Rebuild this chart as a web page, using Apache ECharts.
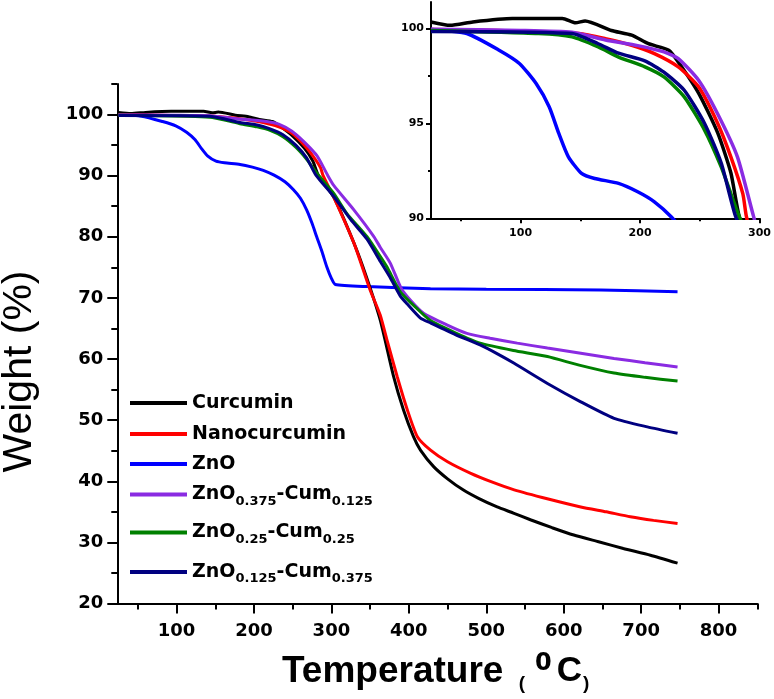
<!DOCTYPE html>
<html>
<head>
<meta charset="utf-8">
<script src="https://cdn.jsdelivr.net/npm/echarts@6/dist/echarts.min.js"></script>
<style>html,body{margin:0;padding:0;background:#fff;}#c{width:774px;height:699px;}</style>
</head>
<body>
<div id="c"></div>
<script>
// ---- data: [temperature (°C), weight (%)] ----
const curcumin = [[25,100.35],[41,100.17],[60,100.35],[93,100.53],[135,100.53],[146,100.3],[154,100.4],[176,99.9],[193,99.65],[207,99.2],[224,98.86],[232,98.24],[249,96.6],[265,94.5],[276,92.4],[283,90.1],[303,86.5],[329,79.0],[345,73.5],[363,66.4],[380,57.3],[393,51.7],[406,47.3],[415,45.1],[432,42.4],[450,40.4],[470,38.6],[490,37.2],[514,35.8],[535,34.8],[557,33.7],[585,32.4],[613,31.2],[645,30.1],[677,29.0],[712,27.9],[747,26.6]];
const nanocurcumin = [[25,99.95],[80,99.9],[149,99.74],[171,99.47],[193,99.12],[212,98.68],[232,97.98],[249,96.93],[265,95.0],[276,93.24],[286,91.3],[289,90.1],[303,86.5],[329,79.0],[350,71.3],[363,67.2],[372,63.0],[385,57.1],[398,51.7],[411,47.3],[428,45.1],[450,43.2],[480,41.3],[507,39.9],[536,38.6],[580,37.1],[622,35.8],[655,35.0],[686,34.2],[716,33.6],[747,33.1]];
const zno = [[25,99.95],[55,99.74],[82,98.86],[99,98.16],[113,97.1],[124,95.87],[132,94.47],[140,93.24],[151,92.37],[162,92.1],[182,91.84],[198,91.4],[212,90.87],[226,90.08],[240,89.0],[251,87.7],[260,86.3],[268,84.4],[275,82.2],[281,80.0],[288,77.5],[294,75.1],[300,73.2],[305,72.2],[346,71.85],[428,71.5],[500,71.4],[648,71.3],[747,71.0]];
const zno375 = [[25,99.97],[100,99.9],[143,99.8],[171,99.4],[198,99.1],[220,98.77],[232,98.42],[249,97.28],[265,95.5],[281.5,93.24],[295,90.1],[303,88.4],[329,84.4],[355,80.0],[363,78.3],[376,75.7],[390,71.6],[403,69.5],[419,67.5],[449,65.6],[475,64.2],[505,63.4],[540,62.6],[579,61.8],[620,61.0],[665,60.1],[705,59.4],[747,58.7]];
const zno25 = [[25,99.9],[115,99.74],[143,99.56],[165,99.03],[182,98.5],[204,97.98],[220,97.45],[237,96.4],[254,94.65],[268,92.7],[276,91.3],[283,90.1],[303,87.1],[320,83.8],[346,80.0],[363,76.8],[372,75.0],[389,71.0],[411,68.2],[428,66.3],[460,64.3],[492,62.6],[535,61.4],[579,60.4],[620,59.0],[665,57.7],[705,57.0],[747,56.4]];
const zno125 = [[25,99.85],[143,99.74],[165,99.2],[182,98.7],[204,98.3],[220,97.7],[237,96.75],[254,95.0],[268,92.9],[280,90.1],[303,86.6],[325,82.8],[346,79.6],[363,76.0],[376,73.3],[389,70.3],[398,69.0],[415,66.7],[428,65.9],[460,64.0],[492,62.3],[515,60.8],[536,59.3],[579,56.0],[622,53.0],[665,50.3],[708,48.9],[747,47.85]];

const seriesNames = ['Curcumin','Nanocurcumin','ZnO','ZnO0.375-Cum0.125','ZnO0.25-Cum0.25','ZnO0.125-Cum0.375'];
const seriesData = [curcumin, nanocurcumin, zno, zno375, zno25, zno125];
const seriesColors = ['#000000','#ff0000','#0000ff','#8a2be2','#008000','#000080'];

const mainXLabels = [100,200,300,400,500,600,700,800];
const mainXMinor = [50,150,250,350,450,550,650,750,850];
const mainYLabels = [20,30,40,50,60,70,80,90,100];
const mainYMinor = [25,35,45,55,65,75,85,95,105];
const insetXLabels = [100,200,300];
const insetXMinor = [50,150,250];
const insetYLabels = [90,95,100];
const insetYMinor = [92.5,97.5];

const FONT = 'DejaVu Sans';
const ARIAL = 'Liberation Sans';
const chart = echarts.init(document.getElementById('c'));

function axisPair(kind, grid, min, max, labels, minor, big) {
  const lw = 2;
  const base = {
    type: 'value', gridIndex: grid, min: min, max: max,
    position: kind === 'x' ? 'bottom' : 'left',
    splitLine: {show: false}
  };
  const major = Object.assign({}, base, {
    axisLine: {show: true, onZero: false, lineStyle: {color: '#000', width: lw}},
    axisTick: {show: true, inside: false, length: big ? 10 : 5, customValues: labels, lineStyle: {color: '#000', width: lw}},
    axisLabel: {show: true, customValues: labels, color: '#000', fontFamily: FONT, fontWeight: 'bold',
      fontSize: big ? 18 : 11, margin: big ? (kind === 'x' ? 19 : 14) : (kind === 'x' ? 9 : 7)}
  });
  const mn = Object.assign({}, base, {
    axisLine: {show: false, onZero: false},
    axisTick: {show: true, inside: false, length: big ? 6 : 3, customValues: minor, lineStyle: {color: '#000', width: lw}},
    axisLabel: {show: false}
  });
  return [major, mn];
}

const xAxes = [].concat(
  axisPair('x', 0, 23.5, 850, mainXLabels, mainXMinor, true),
  axisPair('x', 1, 25, 300, insetXLabels, insetXMinor, false)
);
const yAxes = [].concat(
  axisPair('y', 0, 20, 105, mainYLabels, mainYMinor, true),
  axisPair('y', 1, 90, 101.4, insetYLabels, insetYMinor, false)
);

const series = [];
seriesNames.forEach(function (name, i) {
  series.push({
    name: name, type: 'line', xAxisIndex: 0, yAxisIndex: 0, data: seriesData[i],
    showSymbol: false, symbol: 'none', smooth: 0.2, clip: true,
    lineStyle: {color: seriesColors[i], width: 3}, itemStyle: {color: seriesColors[i]}, z: 3 + (i === 2 ? 0 : 1)
  });
});
seriesNames.forEach(function (name, i) {
  series.push({
    name: name, type: 'line', xAxisIndex: 2, yAxisIndex: 2, data: seriesData[i],
    showSymbol: false, symbol: 'none', smooth: 0.2, clip: true,
    lineStyle: {color: seriesColors[i], width: 3.5}, itemStyle: {color: seriesColors[i]}
  });
});

function legendLabel(name) {
  const m = name.match(/^ZnO([\d.]+)-Cum([\d.]+)$/);
  if (!m) return name;
  return '{b|ZnO}{s|' + m[1] + '}{b|-Cum}{s|' + m[2] + '}';
}
const legendCenters = [403, 434, 464, 495, 533, 572.5];
const legends = seriesNames.map(function (name, i) {
  const isSub = /Cum/.test(name);
  const h = isSub ? 28 : 22;
  return {
    data: [name], orient: 'vertical', left: 130, top: legendCenters[i] - h / 2, padding: 0,
    icon: 'rect', itemWidth: 57, itemHeight: 4, selectedMode: false,
    formatter: legendLabel,
    textStyle: {
      color: '#000', fontFamily: FONT, fontWeight: 'bold', fontSize: 19, lineHeight: 22,
      rich: {
        b: {fontFamily: FONT, fontWeight: 'bold', fontSize: 19, lineHeight: 22, color: '#000'},
        s: {fontFamily: FONT, fontWeight: 'bold', fontSize: 13, lineHeight: 14, padding: [14, 0, 0, 0], color: '#000'}
      }
    }
  };
});

chart.setOption({
  backgroundColor: '#fff',
  animation: false,
  grid: [
    {left: 117.3, right: 16.7, top: 84, bottom: 95.5},
    {left: 431, right: 12.3, top: 2, bottom: 480.7}
  ],
  xAxis: xAxes,
  yAxis: yAxes,
  legend: legends,
  series: series,
  graphic: [
    {
      type: 'text', x: 282, y: 671.5,
      style: {
        text: '{t|Temperature }{pl|(}{u|0}{c|C}{pr|)}',
        verticalAlign: 'middle', align: 'left',
        rich: {
          t: {fontFamily: ARIAL, fontWeight: 'bold', fontSize: 37, lineHeight: 40, fill: '#000'},
          c: {fontFamily: ARIAL, fontWeight: 'bold', fontSize: 35, lineHeight: 40, padding: [0, 0, 0, 5], fill: '#000'},
          pl: {fontFamily: ARIAL, fontWeight: 'bold', fontSize: 19, lineHeight: 20, padding: [24, 0, 0, 5], fill: '#000'},
          pr: {fontFamily: ARIAL, fontWeight: 'bold', fontSize: 19, lineHeight: 20, padding: [24, 0, 0, 1], fill: '#000'},
          u: {fontFamily: FONT, fontWeight: 'bold', fontSize: 24, lineHeight: 24, padding: [0, 0, 15, 10], fill: '#000'}
        }
      }
    },
    {
      type: 'text', x: 19.5, y: 371.5, rotation: Math.PI / 2,
      style: {
        text: 'Weight (%)', fontFamily: ARIAL, fontWeight: 'normal', fontSize: 41,
        fill: '#000', align: 'center', verticalAlign: 'middle'
      }
    }
  ]
});
</script>
</body>
</html>
